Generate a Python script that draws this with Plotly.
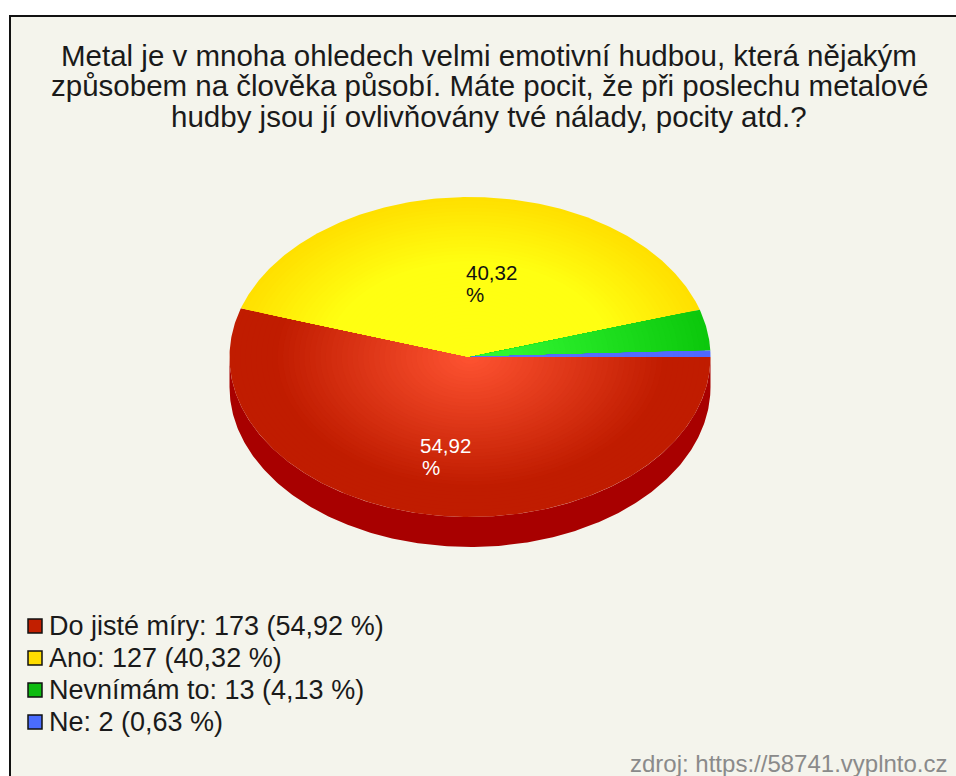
import numpy as np
import plotly.graph_objects as go

W, H = 956, 776
title_lines = [
    "Metal je v mnoha ohledech velmi emotivní hudbou, která nějakým",
    "způsobem na člověka působí. Máte pocit, že při poslechu metalové",
    "hudby jsou jí ovlivňovány tvé nálady, pocity atd.?",
]
categories = ["Do jisté míry", "Ano", "Nevnímám to", "Ne"]
counts = [173, 127, 13, 2]
percent_text = ["54,92", "40,32", "4,13", "0,63"]
edge_colors = [(192, 28, 0), (255, 224, 0), (12, 200, 12), (80, 105, 255)]
mid_colors = [(255, 84, 50), (255, 255, 18), (48, 245, 48), (90, 115, 255)]
fade_start = [0.0, 0.6, 0.2, 0.0]
fade_end = [0.82, 1.0, 1.0, 1.0]
legend_colors = ["#C21F00", "#FFDD00", "#0DBB10", "#4A6CFF"]
source_text = "zdroj: https://58741.vyplnto.cz"

CX, CY, RX, RY, DEPTH = 470, 357, 240.5, 160, 30
LAYERS = 45
FONT = "Liberation Sans"

fig = go.Figure()
total = sum(counts)
bounds = np.concatenate([[0], np.cumsum(counts) / total * 2 * np.pi])


def arc(a0, a1, scale=1.0, dy=0.0):
    t = np.linspace(a0, a1, max(3, int((a1 - a0) * 90)))
    return CX + RX * scale * np.cos(t), CY + dy + RY * scale * np.sin(t)


def poly(x, y, color):
    fig.add_trace(go.Scatter(x=x, y=y, mode="lines", fill="toself", fillcolor=color,
                             line=dict(width=0, color=color), hoverinfo="skip", showlegend=False))


# extruded side
xa, ya = arc(0, np.pi)
xb, yb = arc(0, np.pi, dy=DEPTH)
poly(np.r_[xa, xb[::-1]], np.r_[ya, yb[::-1]], "#A80000")

# top face with a radial shading made of nested wedges
for i in range(len(counts)):
    a0, a1 = bounds[i], bounds[i + 1]
    for k in range(LAYERS):
        f = 1 - k / LAYERS
        m = min(1.0, max(0.0, (f - fade_start[i]) / (fade_end[i] - fade_start[i])))
        c = [round(mc + (ec - mc) * m) for ec, mc in zip(edge_colors[i], mid_colors[i])]
        x, y = arc(a0, a1, f)
        poly(np.r_[CX, x, CX], np.r_[CY, y, CY], f"rgb({c[0]},{c[1]},{c[2]})")

# legend swatches
ly = [626, 658, 690, 722]
fig.add_trace(go.Scatter(x=[35] * 4, y=ly, mode="markers", hoverinfo="skip", showlegend=False,
                         marker=dict(symbol="square", size=14, color=legend_colors,
                                     line=dict(color="#111111", width=1.5))))

ann = []
for s, y in zip(title_lines, [55, 85, 116]):
    ann.append(dict(x=489, y=y, text=s, xanchor="center", yanchor="middle",
                    font=dict(size=29.5, color="#1A1A1A", family=FONT)))
for i, y in enumerate(ly):
    ann.append(dict(x=47, y=y, text=f"{categories[i]}: {counts[i]} ({percent_text[i]} %)",
                    xanchor="left", yanchor="middle",
                    font=dict(size=27, color="#1A1A1A", family=FONT)))
for i, (x, x2, y, col) in enumerate([(418, 420, 445, "#FFFFFF"), (464, 464, 272, "#111111")]):
    ann.append(dict(x=x, y=y, text=percent_text[i], xanchor="left", yanchor="middle",
                    font=dict(size=20.5, color=col, family=FONT)))
    ann.append(dict(x=x2, y=y + 22, text="%", xanchor="left", yanchor="middle",
                    font=dict(size=20.5, color=col, family=FONT)))
ann.append(dict(x=950, y=763, text=source_text, xanchor="right", yanchor="middle",
                font=dict(size=24, color="#8A8A8A", family=FONT)))
for a in ann:
    a.update(xref="x", yref="y", showarrow=False)

fig.update_layout(
    width=W, height=H, margin=dict(l=0, r=0, t=0, b=0), autosize=False,
    paper_bgcolor="#FFFFFF", plot_bgcolor="#FFFFFF",
    xaxis=dict(range=[0, W], visible=False, fixedrange=True),
    yaxis=dict(range=[H, 0], visible=False, fixedrange=True),
    annotations=ann,
    shapes=[dict(type="rect", layer="below", x0=10, y0=16, x1=W + 10, y1=H + 10,
                 fillcolor="#F4F4EC", line=dict(color="#111111", width=2))],
)
fig.write_html("out.html", config=dict(displayModeBar=False), default_width=W, default_height=H,
               post_script="document.body.style.margin='0';document.body.style.overflow='hidden';")
